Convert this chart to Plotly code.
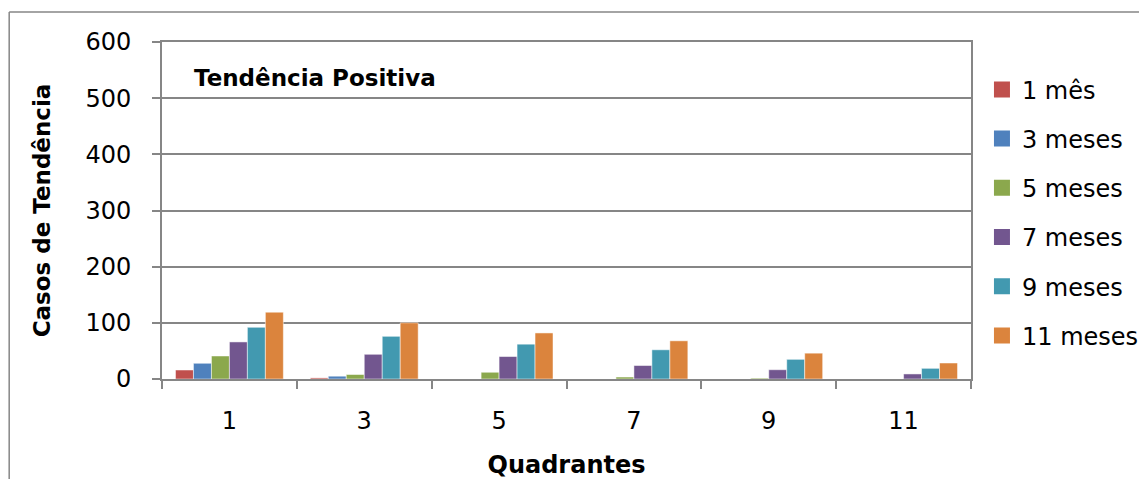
import plotly.graph_objects as go

categories = ["1", "3", "5", "7", "9", "11"]
series_names = ["1 mês", "3 meses", "5 meses", "7 meses", "9 meses", "11 meses"]
s_1mes = [16, 2, 0, 0, 0, 0]
s_3meses = [28, 5, 0, 0, 0, 0]
s_5meses = [41, 8, 12, 3.5, 1.5, 0]
s_7meses = [66, 44, 40, 24, 16.5, 9]
s_9meses = [92, 76, 62, 52, 35, 19]
s_11meses = [119, 100, 82, 68, 46, 28.5]
colors = ["#C0504D", "#4F81BD", "#8BA84D", "#72568F", "#4299B0", "#DB843D"]

values = [s_1mes, s_3meses, s_5meses, s_7meses, s_9meses, s_11meses]

FONT = "DejaVu Sans"
fig = go.Figure()
for name, vals, col in zip(series_names, values, colors):
    fig.add_trace(go.Bar(x=categories, y=vals, name=name, showlegend=False,
                         marker=dict(color=col, line=dict(color="white", width=0.5))))
# legend entries with larger square swatches
for name, col in zip(series_names, colors):
    fig.add_trace(go.Scatter(x=[None], y=[None], mode="markers", name=name,
                             legendgroup=name,
                             marker=dict(symbol="square", size=18, color=col)))

fig.update_layout(
    width=1147, height=479,
    margin=dict(l=154, r=183, t=34, b=108),
    paper_bgcolor="white", plot_bgcolor="white",
    barmode="group", bargap=0.2, bargroupgap=0,
    font=dict(family=FONT, size=24, color="black"),
    legend=dict(x=1.0123, y=0.925, xanchor="left", yanchor="top",
                font=dict(size=24, family=FONT), tracegroupgap=15,
                itemwidth=30, bgcolor="rgba(0,0,0,0)"),
    showlegend=True,
)
fig.update_xaxes(
    type="category", showgrid=False, showline=True, linecolor="#868686", linewidth=2,
    mirror=True, ticks="outside", tickson="boundaries", ticklen=8, tickwidth=2,
    tickcolor="#868686", tickfont=dict(size=24, family=FONT), ticklabelstandoff=19,
    title=dict(text="<b>Quadrantes</b>", font=dict(size=24, family=FONT), standoff=22),
)
fig.update_yaxes(
    range=[0, 600], dtick=100, showgrid=True, gridcolor="#868686", gridwidth=2,
    showline=True, linecolor="#868686", linewidth=2, mirror=True,
    ticks="outside", ticklen=8, tickwidth=2, tickcolor="#868686",
    tickfont=dict(size=24, family=FONT), zeroline=False, ticklabelstandoff=16,
    title=dict(text="<b>Casos de Tendência</b>", font=dict(size=23, family=FONT), standoff=28),
)
fig.add_annotation(text="<b>Tendência Positiva</b>", xref="paper", yref="paper",
                   x=0.037, y=0.893, xanchor="left", yanchor="middle", showarrow=False,
                   font=dict(size=23, family=FONT, color="black"))
# outer chart-area border
BX = (1 - 154) / 810
BY = (379 - 12) / 337
fig.add_shape(type="line", xref="paper", yref="paper", x0=BX, x1=1.3,
              y0=BY, y1=BY, line=dict(color="#868686", width=1.5))
fig.add_shape(type="line", xref="paper", yref="paper", x0=BX, x1=BX,
              y0=BY, y1=-0.4, line=dict(color="#868686", width=1.5))

fig.write_html("out.html")
